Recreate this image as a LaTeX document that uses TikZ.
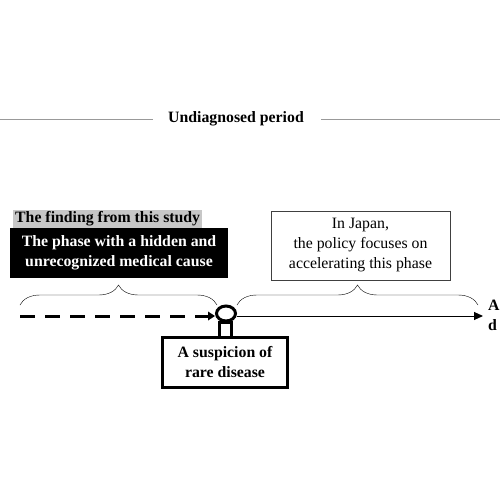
\documentclass[tikz,border=0pt]{standalone}
\usepackage{fontspec}
\setmainfont{Liberation Serif}
\usetikzlibrary{decorations.pathreplacing,arrows.meta,shapes.geometric}

\begin{document}
\begin{tikzpicture}[x=1pt,y=-1pt]
    \useasboundingbox (0,0) rectangle (500,495);
    \begin{scope}[every node/.style={font=\fontsize{15.8}{20}\selectfont\bfseries, inner sep=0, align=center}]
        \coordinate (lft) at (0,119);
        \coordinate (rgt) at (500,119);
        \node (period) at (236,119) {Undiagnosed period};
        \node [fill=black!22, inner xsep=2, inner ysep=1.5, anchor=west] (finding) at (13,219) {The finding from this study};
        \node [fill=black, text=white, minimum width=218, minimum height=50] (phase) at (119,253) {The phase with a hidden and\\unrecognized medical cause};
        \node [draw=black!75, thin, font=\fontsize{15.8}{20}\selectfont, minimum width=179, minimum height=69] (policy) at (360.5,245.5) {In Japan,\\the policy focuses on\\accelerating this phase};
        \node [draw, line width=3, ellipse, minimum width=19, minimum height=15] (point) at (226,313.5) {};
        \node [draw, line width=2.5, minimum width=12, minimum height=15] (stem) at (225.5,330) {};
        \node [draw, line width=3, minimum width=125, minimum height=50] (suspicion) at (225,362.5) {A suspicion of\\rare disease};
        \node [anchor=west, align=left] (diagnosis) at (488,315) {A\\d};
        \coordinate (start) at (20,316);
        \coordinate (finish) at (483,316);
    \end{scope}

    \begin{scope}[every path/.style={thin}]
        \draw [black!40] (lft) -- ([xshift=-15]period.west);
        \draw [black!40] ([xshift=17]period.east) -- (rgt);
        \draw [decorate, decoration={brace, amplitude=20}] (20,305) -- (217,305);
        \draw [decorate, decoration={brace, amplitude=20}] (237,305) -- (478,305);
        \draw [line width=3, dash pattern=on 15 off 10, -{Triangle[length=7,width=9,line width=0]}] (start) -- (point.west |- start);
        \draw [line width=1, -{Triangle[length=9,width=8]}] (point.east |- start) -- (finish);
    \end{scope}
\end{tikzpicture}
\end{document}
